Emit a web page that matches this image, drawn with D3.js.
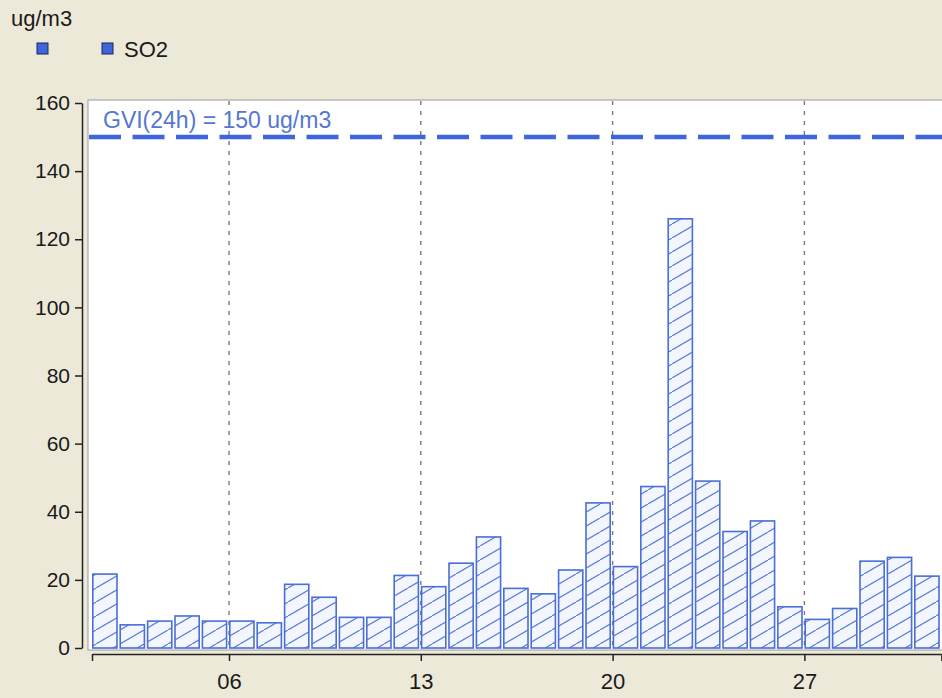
<!DOCTYPE html>
<html>
<head>
<meta charset="utf-8">
<script src="https://cdn.jsdelivr.net/npm/d3@7"></script>
<style>
  html, body { margin: 0; padding: 0; background: #ece9d8; }
  svg { display: block; }
  text { font-family: "Liberation Sans", Arial, sans-serif; }
</style>
</head>
<body>
<svg id="chart" width="942" height="698"></svg>
<script>
// ---- data ----
const days = [1,2,3,4,5,6,7,8,9,10,11,12,13,14,15,16,17,18,19,20,21,22,23,24,25,26,27,28,29,30,31];
const so2 = [21.7, 6.8, 7.9, 9.4, 7.9, 7.9, 7.4, 18.7, 14.9, 9.0, 9.0, 21.3, 18.0, 24.9, 32.6, 17.5, 15.9, 22.9, 42.6, 23.9, 47.4, 126.0, 49.0, 34.2, 37.3, 12.1, 8.4, 11.6, 25.5, 26.6, 21.1];
const xTickValues = [1, 6, 13, 20, 27, 32];
const xTickLabels = ["", "06", "13", "20", "27", ""];
const yTickValues = [0, 20, 40, 60, 80, 100, 120, 140, 160];
const gviValue = 150;
const gviLabel = "GVI(24h) = 150 ug/m3";
const unitLabel = "ug/m3";
const seriesName = "SO2";

// ---- layout ----
const svg = d3.select("#chart");
const x = d3.scaleLinear().domain([1, 32]).range([92, 941.4]);
const y = d3.scaleLinear().domain([0, 160]).range([648, 103]);

const blue = "#3d66dc";
const barStroke = "#4a6fd6";

// hatch pattern
const defs = svg.append("defs");
const pat = defs.append("pattern")
  .attr("id", "hatch")
  .attr("patternUnits", "userSpaceOnUse")
  .attr("width", 24).attr("height", 14);
pat.append("rect").attr("width", 24).attr("height", 14).attr("fill", "#f3f6fd");
pat.append("path")
  .attr("d", "M-2,15.17 L26,-1.17")
  .attr("stroke", "#5a7ddb").attr("stroke-width", 1.2).attr("fill", "none");

// plot area
svg.append("rect")
  .attr("x", 88).attr("y", 100).attr("width", 856).attr("height", 550)
  .attr("fill", "#ffffff").attr("stroke", "#9a9a9a").attr("stroke-width", 1);

// vertical dashed grid at labelled ticks
svg.append("g").selectAll("line")
  .data(xTickValues.filter((d, i) => xTickLabels[i] !== ""))
  .join("line")
  .attr("x1", d => x(d)).attr("x2", d => x(d))
  .attr("y1", 101).attr("y2", 650)
  .attr("stroke", "#7a7a7a").attr("stroke-width", 1.4)
  .attr("stroke-dasharray", "4,6");

// bars
svg.append("g").selectAll("rect")
  .data(days.map((d, i) => ({ d, v: so2[i] })))
  .join("rect")
  .attr("x", p => x(p.d) + 0.8)
  .attr("width", p => x(p.d + 1) - x(p.d) - 3.2)
  .attr("y", p => y(p.v))
  .attr("height", p => y(0) - y(p.v))
  .attr("fill", "url(#hatch)")
  .attr("stroke", barStroke).attr("stroke-width", 1.6);

// GVI line
svg.append("line")
  .attr("x1", 89).attr("x2", 942)
  .attr("y1", y(gviValue)).attr("y2", y(gviValue))
  .attr("stroke", blue).attr("stroke-width", 4.5)
  .attr("stroke-dasharray", "32,11.5");

svg.append("text")
  .attr("x", 103).attr("y", 127.5)
  .attr("fill", "#5577d2")
  .attr("font-size", 23)
  .text(gviLabel);

// y axis
const yAxis = d3.axisLeft(y).tickValues(yTickValues).tickSize(7).tickPadding(5).tickSizeOuter(0);
const gy = svg.append("g").attr("transform", "translate(82,0)").call(yAxis);
gy.select(".domain").attr("stroke", "#222").attr("stroke-width", 1.5);
gy.selectAll(".tick line").attr("stroke", "#222").attr("stroke-width", 1.5);
gy.selectAll(".tick text").attr("font-size", 21).attr("fill", "#1a1a1a")
  .attr("font-family", "'Liberation Sans', Arial, sans-serif");

// x axis
const xAxis = d3.axisBottom(x).tickValues(xTickValues)
  .tickFormat((d, i) => xTickLabels[i]).tickSize(7).tickPadding(12).tickSizeOuter(0);
const gx = svg.append("g").attr("transform", "translate(0,654)").call(xAxis);
gx.select(".domain").attr("stroke", "#222").attr("stroke-width", 1.5);
gx.selectAll(".tick line").attr("stroke", "#222").attr("stroke-width", 1.5);
gx.selectAll(".tick text").attr("font-size", 22).attr("fill", "#1a1a1a")
  .attr("font-family", "'Liberation Sans', Arial, sans-serif");

// unit label + legend
svg.append("text").attr("x", 11).attr("y", 26).attr("font-size", 22).attr("fill", "#1a1a1a").text(unitLabel);
const legendItems = ["", seriesName];
const lg = svg.append("g").selectAll("g").data(legendItems).join("g")
  .attr("transform", (d, i) => `translate(${37 + i * 65},43)`);
lg.append("rect").attr("width", 11).attr("height", 11)
  .attr("fill", blue).attr("stroke", "#1c2550").attr("stroke-width", 1);
lg.append("text").attr("x", 22).attr("y", 13.5).attr("font-size", 22).attr("fill", "#1a1a1a").text(d => d);
</script>
</body>
</html>
